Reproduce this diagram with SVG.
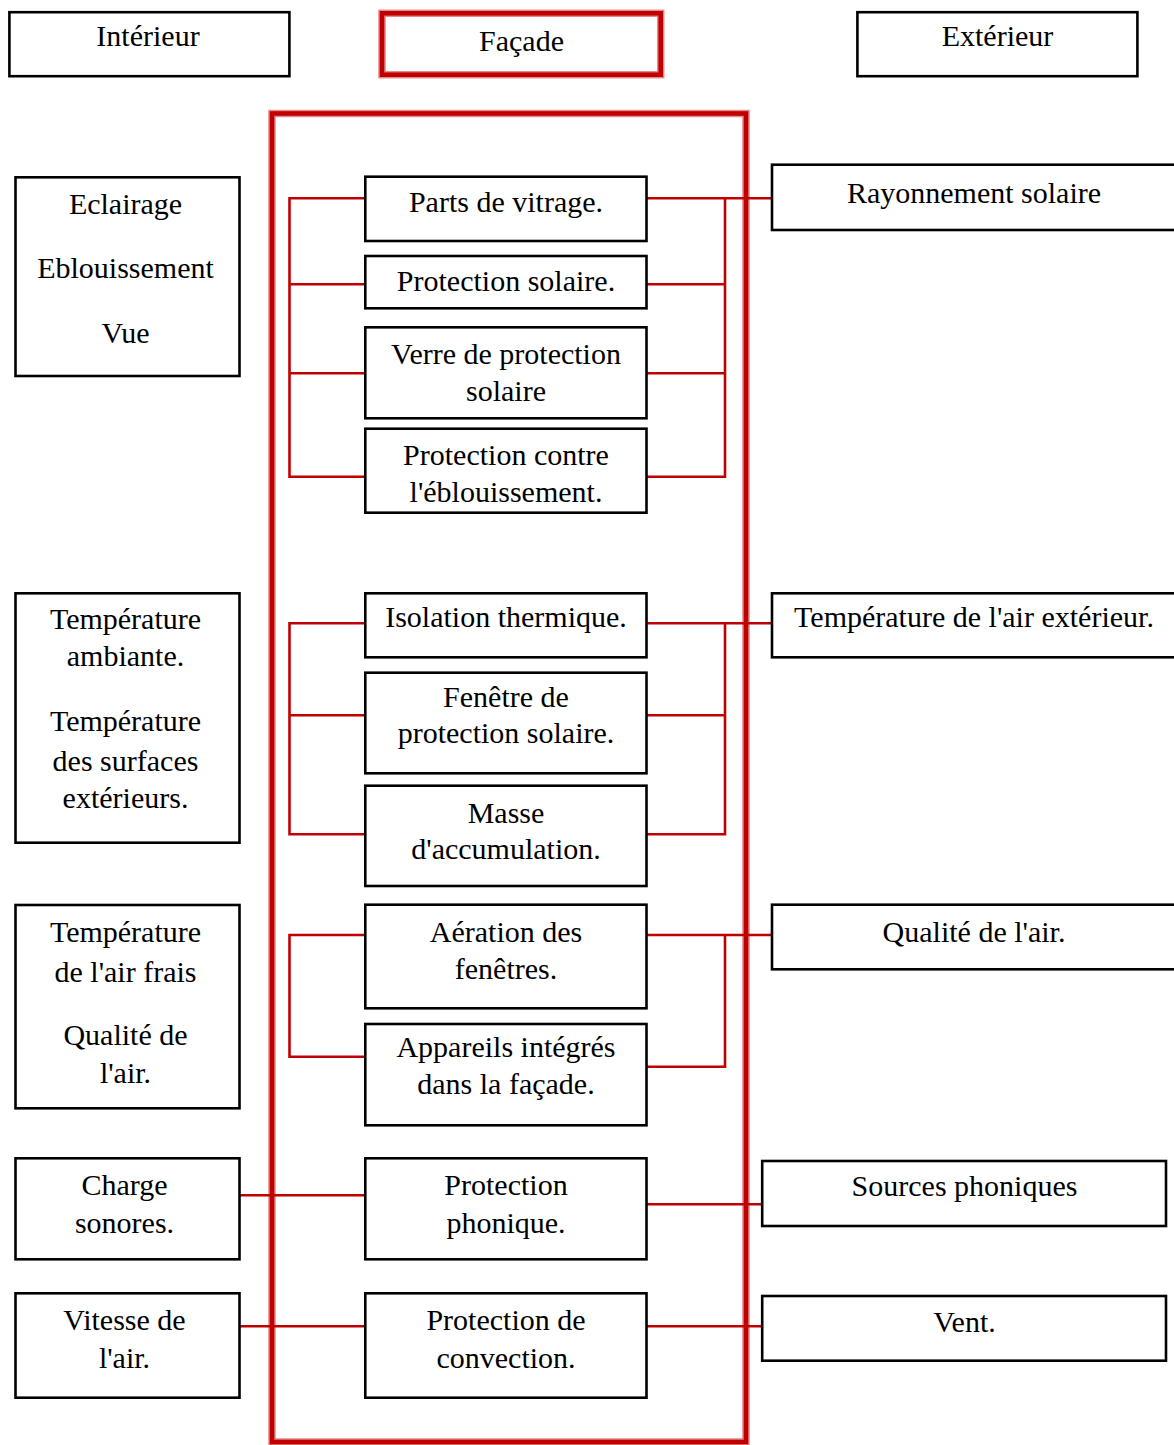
<svg xmlns="http://www.w3.org/2000/svg" width="1174" height="1445" viewBox="0 0 1174 1445" font-family="Liberation Serif, Times New Roman, serif">
  <style>
    .box { fill: #ffffff; stroke: #000000; stroke-width: 2.6; }
    text { font-family: "Liberation Serif", "Times New Roman", Times, serif; font-size: 30px; fill: #000000; text-anchor: middle; }
    .halo { fill: none; stroke: #e58a8a; stroke-width: 7.5; }
    .frame { fill: none; stroke: #c00000; stroke-width: 4.6; }
    .wire { fill: none; stroke: #c00000; stroke-width: 2.6; }
  </style>
  <rect x="0" y="0" width="1174" height="1445" fill="#ffffff"/>

  <!-- column headers -->
  <g id="hdr-interieur">
    <rect class="box" x="9.4" y="12.2" width="280" height="64"/>
    <text x="148" y="46">Intérieur</text>
  </g>
  <g id="hdr-facade">
    <rect class="halo" x="382" y="13.3" width="278.7" height="61.4"/>
    <rect class="frame" x="382" y="13.3" width="278.7" height="61.4"/>
    <text x="521.5" y="51">Façade</text>
  </g>
  <g id="hdr-exterieur">
    <rect class="box" x="857.4" y="12.2" width="280" height="64"/>
    <text x="997.5" y="46">Extérieur</text>
  </g>

  <!-- facade enclosure -->
  <g id="facade-frame">
    <rect class="halo" x="272" y="113.5" width="474" height="1328.5"/>
    <rect class="frame" x="272" y="113.5" width="474" height="1328.5"/>
  </g>

  <!-- connectors -->
  <g id="connectors">
    <path class="wire" d="M365,198.3 H289.5 V476.7 H365 M289.5,284.3 H365 M289.5,373.3 H365"/>
    <path class="wire" d="M647,198.3 H772 M725,198.3 V476.7 H647 M647,284.3 H725 M647,373.3 H725"/>
    <path class="wire" d="M365,623.3 H289.5 V834.3 H365 M289.5,715.3 H365"/>
    <path class="wire" d="M647,623.3 H772 M725,623.3 V834.3 H647 M647,715.3 H725"/>
    <path class="wire" d="M365,935 H289.5 V1056.7 H365"/>
    <path class="wire" d="M647,935 H772 M725,935 V1066.7 H647"/>
    <path class="wire" d="M240,1195.3 H365 M647,1204.3 H762"/>
    <path class="wire" d="M240,1326.3 H365 M647,1326.3 H762"/>
  </g>

  <!-- interior needs -->
  <g id="int-lumiere">
    <rect class="box" x="15.5" y="177.3" width="224" height="198.7"/>
    <text x="125.5" y="214.3">Eclairage</text>
    <text x="125.5" y="278.3">Eblouissement</text>
    <text x="125.5" y="342.7">Vue</text>
  </g>
  <g id="int-temperature">
    <rect class="box" x="15.5" y="593.3" width="224" height="249.4"/>
    <text x="125.5" y="629.3">Température</text>
    <text x="125.5" y="666.3">ambiante.</text>
    <text x="125.5" y="730.7">Température</text>
    <text x="125.5" y="770.7">des surfaces</text>
    <text x="125.5" y="807.7">extérieurs.</text>
  </g>
  <g id="int-air">
    <rect class="box" x="15.5" y="905" width="224" height="203.3"/>
    <text x="125.5" y="941.7">Température</text>
    <text x="125.5" y="981.7">de l'air frais</text>
    <text x="125.5" y="1045">Qualité de</text>
    <text x="125.5" y="1082.7">l'air.</text>
  </g>
  <g id="int-son">
    <rect class="box" x="15.5" y="1158.3" width="224" height="101"/>
    <text x="124.5" y="1195">Charge</text>
    <text x="124.5" y="1232.7">sonores.</text>
  </g>
  <g id="int-vitesse">
    <rect class="box" x="15.5" y="1293.3" width="224" height="104.4"/>
    <text x="124.5" y="1330">Vitesse de</text>
    <text x="124.5" y="1367.7">l'air.</text>
  </g>

  <!-- facade functions -->
  <g id="fac-vitrage">
    <rect class="box" x="365.3" y="176.7" width="281.2" height="64.3"/>
    <text x="506" y="212.3">Parts de vitrage.</text>
  </g>
  <g id="fac-protection-solaire">
    <rect class="box" x="365.3" y="256" width="281.2" height="52.3"/>
    <text x="506" y="291">Protection solaire.</text>
  </g>
  <g id="fac-verre">
    <rect class="box" x="365.3" y="327.3" width="281.2" height="91"/>
    <text x="506" y="364">Verre de protection</text>
    <text x="506" y="401">solaire</text>
  </g>
  <g id="fac-eblouissement">
    <rect class="box" x="365.3" y="428.7" width="281.2" height="84"/>
    <text x="506" y="465">Protection contre</text>
    <text x="506" y="502.3">l'éblouissement.</text>
  </g>
  <g id="fac-isolation">
    <rect class="box" x="365.3" y="593.3" width="281.2" height="64"/>
    <text x="506" y="626.7">Isolation thermique.</text>
  </g>
  <g id="fac-fenetre">
    <rect class="box" x="365.3" y="672.7" width="281.2" height="100.6"/>
    <text x="506" y="707">Fenêtre de</text>
    <text x="506" y="743.3">protection solaire.</text>
  </g>
  <g id="fac-masse">
    <rect class="box" x="365.3" y="785.7" width="281.2" height="100.3"/>
    <text x="506" y="823.3">Masse</text>
    <text x="506" y="859.3">d'accumulation.</text>
  </g>
  <g id="fac-aeration">
    <rect class="box" x="365.3" y="904.7" width="281.2" height="103.6"/>
    <text x="506" y="941.7">Aération des</text>
    <text x="506" y="979">fenêtres.</text>
  </g>
  <g id="fac-appareils">
    <rect class="box" x="365.3" y="1024" width="281.2" height="101.3"/>
    <text x="506" y="1057.3">Appareils intégrés</text>
    <text x="506" y="1094">dans la façade.</text>
  </g>
  <g id="fac-phonique">
    <rect class="box" x="365.3" y="1158.3" width="281.2" height="101"/>
    <text x="506" y="1195">Protection</text>
    <text x="506" y="1232.7">phonique.</text>
  </g>
  <g id="fac-convection">
    <rect class="box" x="365.3" y="1293.3" width="281.2" height="104.4"/>
    <text x="506" y="1330">Protection de</text>
    <text x="506" y="1367.7">convection.</text>
  </g>

  <!-- exterior influences -->
  <g id="ext-rayonnement">
    <rect class="box" x="772" y="164.7" width="404" height="65.3"/>
    <text x="974" y="202.7">Rayonnement solaire</text>
  </g>
  <g id="ext-temperature">
    <rect class="box" x="772" y="593.3" width="404" height="64"/>
    <text x="974" y="627">Température de l'air extérieur.</text>
  </g>
  <g id="ext-air">
    <rect class="box" x="772" y="904.7" width="404" height="64.6"/>
    <text x="974" y="942.3">Qualité de l'air.</text>
  </g>
  <g id="ext-sources">
    <rect class="box" x="762.2" y="1161" width="403.8" height="65"/>
    <text x="964.5" y="1196">Sources phoniques</text>
  </g>
  <g id="ext-vent">
    <rect class="box" x="762.2" y="1296" width="403.8" height="64.7"/>
    <text x="964.5" y="1332">Vent.</text>
  </g>
</svg>
